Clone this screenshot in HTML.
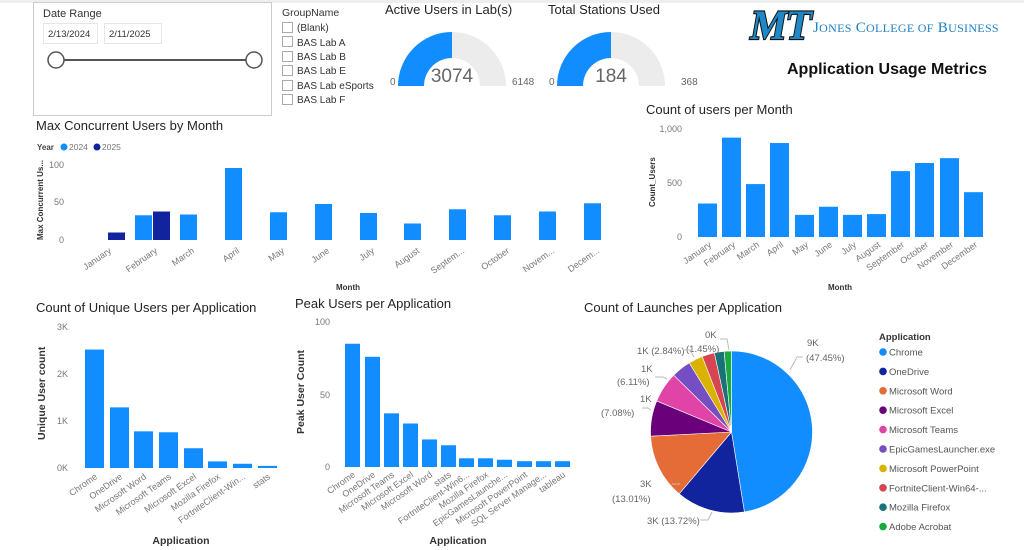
<!DOCTYPE html>
<html><head><meta charset="utf-8"><style>
html,body{margin:0;padding:0;background:#fff;}
svg{display:block;font-family:"Liberation Sans",sans-serif;}
.t{font-size:13px;fill:#252423;}
.tk{font-size:9px;fill:#777;}
.ax{font-size:8px;fill:#333;font-weight:bold;}
.ml{font-size:9px;fill:#777;}
</style></head><body>
<svg id="s" width="1024" height="550" viewBox="0 0 1024 550" xmlns="http://www.w3.org/2000/svg">
<rect x="0" y="0" width="1024" height="3" fill="#eee"/>
<rect x="33.5" y="2.5" width="238" height="113" fill="#fff" stroke="#ccc"/>
<text x="43" y="17" font-size="11" fill="#333">Date Range</text>
<rect x="43.5" y="23.5" width="54" height="20" fill="#fff" stroke="#e6e6e6"/>
<text x="48" y="37" font-size="9.5" fill="#333">2/13/2024</text>
<rect x="104.5" y="23.5" width="57" height="20" fill="#fff" stroke="#e6e6e6"/>
<text x="109" y="37" font-size="9.5" fill="#333">2/11/2025</text>
<line x1="56" y1="60" x2="254" y2="60" stroke="#555" stroke-width="2"/>
<circle cx="56" cy="60" r="8" fill="#fff" stroke="#555" stroke-width="1.5"/>
<circle cx="254" cy="60" r="8" fill="#fff" stroke="#555" stroke-width="1.5"/>
<text x="282" y="16" font-size="10.5" fill="#333">GroupName</text>
<g font-size="10" fill="#333">
<rect x="282.5" y="22.5" width="10" height="10" fill="#fff" stroke="#aaa"/><text x="297" y="31">(Blank)</text>
<rect x="282.5" y="36.5" width="10" height="10" fill="#fff" stroke="#aaa"/><text x="297" y="46">BAS Lab A</text>
<rect x="282.5" y="51.5" width="10" height="10" fill="#fff" stroke="#aaa"/><text x="297" y="60">BAS Lab B</text>
<rect x="282.5" y="65.5" width="10" height="10" fill="#fff" stroke="#aaa"/><text x="297" y="74">BAS Lab E</text>
<rect x="282.5" y="80.5" width="10" height="10" fill="#fff" stroke="#aaa"/><text x="297" y="89">BAS Lab eSports</text>
<rect x="282.5" y="94.5" width="10" height="10" fill="#fff" stroke="#aaa"/><text x="297" y="103">BAS Lab F</text>
</g>
<text x="385" y="14" class="t">Active Users in Lab(s)</text>
<path d="M398,86 A54,54 0 0 1 506,86 L480,86 A28,28 0 0 0 424,86 Z" fill="#ececec"/>
<path d="M398,86 A54,54 0 0 1 452,32 L452,58 A28,28 0 0 0 424,86 Z" fill="#118DFF"/>
<text x="452" y="82" font-size="19" fill="#666" text-anchor="middle">3074</text>
<text x="390" y="85" font-size="10" fill="#666">0</text>
<text x="512" y="85" font-size="10" fill="#666">6148</text>
<text x="548" y="14" class="t">Total Stations Used</text>
<path d="M557,86 A54,54 0 0 1 665,86 L639,86 A28,28 0 0 0 583,86 Z" fill="#ececec"/>
<path d="M557,86 A54,54 0 0 1 611,32 L611,58 A28,28 0 0 0 583,86 Z" fill="#118DFF"/>
<text x="611" y="82" font-size="19" fill="#666" text-anchor="middle">184</text>
<text x="549" y="85" font-size="10" fill="#666">0</text>
<text x="681" y="85" font-size="10" fill="#666">368</text>
<g transform="translate(745,39) skewX(-10)">
<text x="4" y="0" font-family="Liberation Serif,serif" font-size="42" font-weight="bold" fill="#1e88c9" stroke="#111" stroke-width="2.2" paint-order="stroke" textLength="60" lengthAdjust="spacingAndGlyphs">MT</text>
</g>
<text x="813" y="32" font-family="Liberation Serif,serif" font-size="15" fill="#1e7fc1" letter-spacing="0.3">J<tspan font-size="12">ONES</tspan> C<tspan font-size="12">OLLEGE OF</tspan> B<tspan font-size="12">USINESS</tspan></text>
<text x="787" y="74" font-size="16" font-weight="bold" fill="#111">Application Usage Metrics</text>

<text x="36" y="130" class="t">Max Concurrent Users by Month</text>
<text x="37" y="150" font-size="8" font-weight="bold" fill="#444">Year</text>
<circle cx="64" cy="147" r="3.5" fill="#118DFF"/><text x="69" y="150" font-size="8.5" fill="#777">2024</text>
<circle cx="97" cy="147" r="3.5" fill="#12239E"/><text x="102" y="150" font-size="8.5" fill="#777">2025</text>
<text x="64" y="168" class="tk" text-anchor="end">100</text>
<text x="64" y="205" class="tk" text-anchor="end">50</text>
<text x="64" y="243" class="tk" text-anchor="end">0</text>
<text transform="translate(43,240) rotate(-90)" class="ax">Max Concurrent Us...</text>
<g id="mc"></g>
<text x="348" y="290" class="ax" text-anchor="middle">Month</text>

<text x="646" y="114" class="t">Count of users per Month</text>
<text x="682" y="132" class="tk" text-anchor="end">1,000</text>
<text x="682" y="186" class="tk" text-anchor="end">500</text>
<text x="682" y="240" class="tk" text-anchor="end">0</text>
<text transform="translate(655,207) rotate(-90)" class="ax">Count_Users</text>
<g id="um"></g>
<text x="840" y="290" class="ax" text-anchor="middle">Month</text>

<text x="36" y="312" class="t">Count of Unique Users per Application</text>
<text x="68" y="330" class="tk" text-anchor="end">3K</text>
<text x="68" y="377" class="tk" text-anchor="end">2K</text>
<text x="68" y="424" class="tk" text-anchor="end">1K</text>
<text x="68" y="471" class="tk" text-anchor="end">0K</text>
<text transform="translate(45,440) rotate(-90)" font-size="10.5" font-weight="bold" fill="#333">Unique User count</text>
<g id="uu"></g>
<text x="181" y="544" font-size="10.5" font-weight="bold" fill="#333" text-anchor="middle">Application</text>

<text x="295" y="308" class="t">Peak Users per Application</text>
<text x="330" y="325" class="tk" text-anchor="end">100</text>
<text x="330" y="398" class="tk" text-anchor="end">50</text>
<text x="330" y="470" class="tk" text-anchor="end">0</text>
<text transform="translate(304,434) rotate(-90)" font-size="10.5" font-weight="bold" fill="#333">Peak User Count</text>
<g id="pu"></g>
<text x="458" y="544" font-size="10.5" font-weight="bold" fill="#333" text-anchor="middle">Application</text>

<text x="584" y="312" class="t">Count of Launches per Application</text>
<g id="pie"></g>
<g font-size="9.5" fill="#666">
<text x="807" y="346">9K</text><text x="806" y="361">(47.45%)</text>
<text x="647" y="524">3K (13.72%)</text>
<text x="640" y="487">3K</text><text x="612" y="502">(13.01%)</text>
<text x="640" y="402">1K</text><text x="601" y="416">(7.08%)</text>
<text x="641" y="372">1K</text><text x="617" y="385">(6.11%)</text>
<text x="637" y="354">1K (2.84%)</text>
<text x="705" y="338">0K</text><text x="686" y="352">(1.45%)</text>
</g>
<g stroke="#bbb" fill="none" stroke-width="1">
<polyline points="790,370 797,357 803,357"/>
<polyline points="712,512 708,520 700,520"/>
<polyline points="680,484 672,484"/>
<polyline points="651,410 648,408 642,408"/>
<polyline points="667,379 663,377 655,377"/>
<polyline points="694,357 690,350 683,350"/>
<polyline points="729,350 727,339 720,339"/>
</g>
<text x="879" y="340" font-size="9.5" font-weight="bold" fill="#333">Application</text>
<g id="leg"></g>
</svg>
<script>
var NS="http://www.w3.org/2000/svg";
function el(p,t,a,txt){var e=document.createElementNS(NS,t);for(var k in a)e.setAttribute(k,a[k]);if(txt)e.textContent=txt;document.getElementById(p).appendChild(e);return e;}
var B="#118DFF",D="#12239E";
var base=240,sc=0.75;
var mc=[[108,10,D],[135,33,B],[153,38,D],[180,34,B],[225,96,B],[270,37,B],[315,48,B],[360,36,B],[404,22,B],[449,41,B],[494,33,B],[539,38,B],[584,49,B]];
mc.forEach(function(b){el("mc","rect",{x:b[0],y:base-b[1]*sc,width:17,height:b[1]*sc,fill:b[2]});});
var mn=["January","February","March","April","May","June","July","August","Septem...","October","Novem...","Decem..."];
var mx=[112,158,195,240,285,330,375,420,465,510,555,600];
mn.forEach(function(m,i){el("mc","text",{"class":"ml","text-anchor":"end",transform:"translate("+mx[i]+",252) rotate(-35)"},m);});
var um=[[698,310],[722,920],[746,490],[770,870],[795,205],[819,280],[843,205],[867,212],[891,610],[915,685],[940,730],[964,415]];
um.forEach(function(b){el("um","rect",{x:b[0],y:237-b[1]*0.108,width:19,height:b[1]*0.108,fill:B});});
var mn2=["January","February","March","April","May","June","July","August","September","October","November","December"];
um.forEach(function(b,i){el("um","text",{"class":"ml","text-anchor":"end",transform:"translate("+(b[0]+14)+",246) rotate(-35)"},mn2[i]);});
var uu=[[85,2520,"Chrome"],[110,1290,"OneDrive"],[134,780,"Microsoft Word"],[159,760,"Microsoft Teams"],[184,420,"Microsoft Excel"],[208,140,"Mozilla Firefox"],[233,90,"FortniteClient-Win..."],[258,45,"stats"]];
uu.forEach(function(b){var h=b[1]*0.047;el("uu","rect",{x:b[0],y:468-h,width:19,height:h,fill:B});el("uu","text",{"class":"ml","font-size":"9.5","text-anchor":"end",transform:"translate("+(b[0]+13)+",478) rotate(-35)"},b[2]);});
var pu=[[345,85,"Chrome"],[365,76,"OneDrive"],[384,37,"Microsoft Teams"],[403,30,"Microsoft Excel"],[422,19,"Microsoft Word"],[441,15,"stats"],[459,6,"FortniteClient-Win6..."],[478,6,"Mozilla Firefox"],[497,5,"EpicGamesLaunche..."],[517,4,"Microsoft PowerPoint"],[536,4,"SQL Server Manage..."],[555,4,"tableau"]];
pu.forEach(function(b){var h=b[1]*1.45;el("pu","rect",{x:b[0],y:467-h,width:15,height:h,fill:B});el("pu","text",{"class":"ml","font-size":"9.5","text-anchor":"end",transform:"translate("+(b[0]+11)+",476) rotate(-35)"},b[2]);});
var sl=[[47.45,B,"Chrome"],[13.72,D,"OneDrive"],[13.01,"#E66C37","Microsoft Word"],[7.08,"#6B007B","Microsoft Excel"],[6.11,"#E044A7","Microsoft Teams"],[3.9,"#744EC2","EpicGamesLauncher.exe"],[2.84,"#D9B300","Microsoft PowerPoint"],[2.5,"#D64550","FortniteClient-Win64-..."],[1.94,"#197278","Mozilla Firefox"],[1.45,"#1AAB40","Adobe Acrobat"]];
var cx=731.5,cy=432,r=81,a=0;
sl.forEach(function(s,i){var a1=a+s[0]/100*2*Math.PI;
var x0=cx+r*Math.sin(a),y0=cy-r*Math.cos(a),x1=cx+r*Math.sin(a1),y1=cy-r*Math.cos(a1);
el("pie","path",{d:"M"+cx+","+cy+" L"+x0+","+y0+" A"+r+","+r+" 0 "+((a1-a)>Math.PI?1:0)+" 1 "+x1+","+y1+" Z",fill:s[1],stroke:"#fff","stroke-width":"0.6"});a=a1;
el("leg","circle",{cx:883,cy:352+i*19.4,r:3.8,fill:s[1]});
el("leg","text",{x:889,y:355.5+i*19.4,"font-size":"9.5",fill:"#555"},s[2]);});
</script>
</body></html>
